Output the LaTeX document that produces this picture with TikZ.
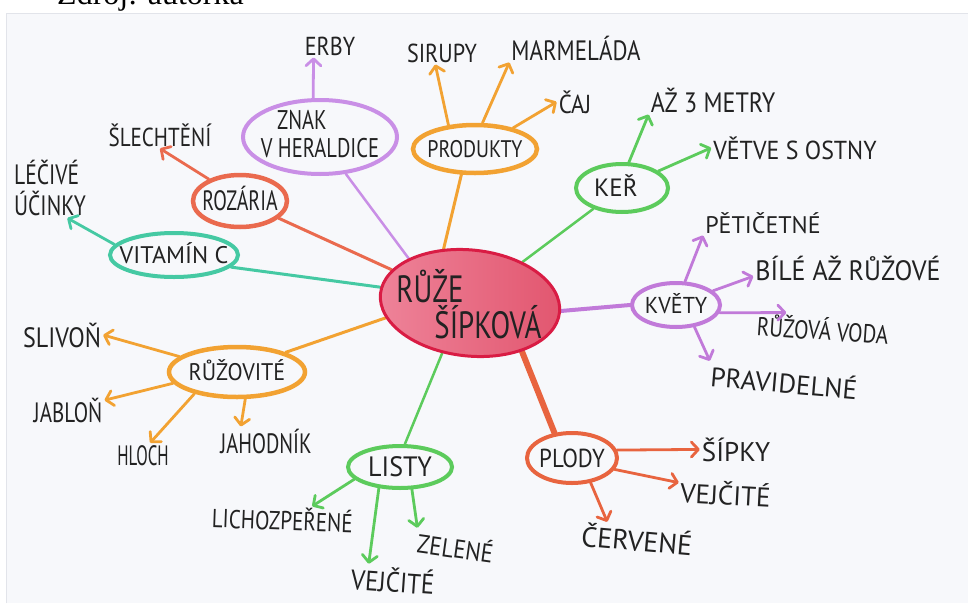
\documentclass[tikz,border=0pt]{standalone}
\usepackage{fontspec}
\usepackage{graphicx}
\setmainfont{PT Sans}
\newfontfamily\bigfont{PT Sans}[FakeStretch=0.76]
\newfontfamily\srcfont{Liberation Serif}
\usetikzlibrary{shapes.geometric,arrows.meta}
\definecolor{ink}{HTML}{222222}
\definecolor{cRed}{HTML}{E8643F}
\definecolor{cRoz}{HTML}{EA6A4E}
\definecolor{cTeal}{HTML}{45C9A3}
\definecolor{cLilac}{HTML}{C98FE6}
\definecolor{cViolet}{HTML}{C17AD9}
\definecolor{cOrange}{HTML}{F2A232}
\definecolor{cGreen}{HTML}{5CCB5C}
\definecolor{cRuzeBorder}{HTML}{D91C44}
\definecolor{cRuzeL}{HTML}{EE8399}
\definecolor{cRuzeR}{HTML}{E2566F}
\definecolor{paper}{HTML}{F7F8FB}
\definecolor{paperEdge}{HTML}{E2E4EA}
\newcommand\ctr[1]{\smash{\makebox[0pt]{\raisebox{-0.35em}{#1}}}}
\newcommand\sx[2]{\scalebox{#1}[1]{#2}}
\pgfdeclarelayer{bg}
\pgfsetlayers{bg,main}
\begin{document}
\begin{tikzpicture}[x=1pt,y=-1pt,
  lbl/.style={font=\fontsize{#1}{#1}\selectfont, text=ink, inner sep=2pt, anchor=base},
  bub/.style={ellipse, draw=#1, line width=4pt, fill=paper, inner sep=0pt, text=ink},
  link/.style={draw=#1, line width=3pt, line cap=round},
  arr/.style={draw=#1, line width=2.8pt, line cap=round, -{Straight Barb[length=7pt,width=15pt,round]}},
]
\useasboundingbox (0,0) rectangle (968,605);
% source line (cut off at the top)
\node[font=\srcfont\fontsize{32}{32}\selectfont, anchor=base west, inner sep=0pt] (src) at (57,5) {Zdroj: autorka};

% central node
\node[ellipse, draw=cRuzeBorder, line width=3pt, left color=cRuzeL, right color=cRuzeR,
      minimum width=180pt, minimum height=106pt, rotate=-6, inner sep=0pt] (ruze) at (470,303) {};
\node[font=\bigfont\fontsize{38}{40}\selectfont, text=ink, anchor=base, inner sep=0pt] (ruzeA) at (430,302) {RŮŽE};
\node[font=\bigfont\fontsize{38}{40}\selectfont, text=ink, anchor=base, inner sep=0pt] (ruzeB) at (488,338) {ŠÍPKOVÁ};

% first-level bubbles
\node[bub=cRoz, line width=4.5pt, minimum width=94pt, minimum height=52pt, font=\fontsize{28}{28}\selectfont] (rozaria) at (240,201) {\ctr{\sx{0.71}{ROZÁRIA}}};
\node[bub=cTeal, minimum width=128pt, minimum height=44pt, font=\fontsize{24}{24}\selectfont] (vitamin) at (174,255) {\ctr{VITAMÍN C}};
\node[bub=cLilac, minimum width=154pt, minimum height=74pt, font=\fontsize{27}{27}\selectfont] (znak) at (320,137)
   {\smash{\makebox[0pt]{\raisebox{-20pt}{\begin{tabular}[b]{@{}c@{}}\hspace*{-36pt}\sx{0.76}{ZNAK}\\\sx{0.76}{V HERALDICE}\end{tabular}}}}};
\node[bub=cOrange, line width=4.5pt, minimum width=124pt, minimum height=48pt, font=\fontsize{24}{24}\selectfont] (produkty) at (475,149) {\ctr{\sx{0.83}{PRODUKTY}}};
\node[bub=cGreen, minimum width=92pt, minimum height=48pt, font=\fontsize{25}{25}\selectfont] (ker) at (622,188) {\ctr{\hspace*{-12pt}KEŘ}};
\node[bub=cViolet, minimum width=88pt, minimum height=44pt, font=\fontsize{23}{23}\selectfont] (kvety) at (676,305) {\ctr{\sx{0.96}{KVĚTY}}};
\node[bub=cRed, minimum width=90pt, minimum height=50pt, font=\fontsize{26}{26}\selectfont] (plody) at (572,458) {\ctr{\sx{0.88}{PLODY}}};
\node[bub=cGreen, minimum width=104pt, minimum height=42pt, font=\fontsize{28}{28}\selectfont] (listy) at (400,467) {\ctr{\sx{0.93}{LISTY}}};
\node[bub=cOrange, line width=4.5pt, minimum width=136pt, minimum height=50pt, font=\fontsize{24}{24}\selectfont] (ruzovite) at (237,372) {\ctr{\sx{0.92}{RŮŽOVITÉ}}};

% leaf labels
\node[lbl=26] (slechteni) at (160,146) {\sx{0.81}{ŠLECHTĚNÍ}};
\node[font=\fontsize{28}{31}\selectfont, text=ink, inner sep=2pt, align=left] (lecive) at (50,188) {\sx{0.77}{LÉČIVÉ}\\\sx{0.77}{ÚČINKY}};
\node[lbl=26] (erby) at (330,55) {\sx{0.85}{ERBY}};
\node[lbl=26] (sirupy) at (442,62) {\sx{0.85}{SIRUPY}};
\node[lbl=28] (marmelada) at (576,60) {\sx{0.82}{MARMELÁDA}};
\node[lbl=26] (caj) at (575,113) {\sx{0.88}{ČAJ}};
\node[lbl=28] (metry) at (713,112) {\sx{0.86}{AŽ 3 METRY}};
\node[lbl=26] (vetve) at (795,159) {\sx{0.92}{VĚTVE S OSTNY}};
\node[lbl=24] (peti) at (763,233) {PĚTIČETNÉ};
\node[lbl=28] (bile) at (848,280) {\sx{0.93}{BÍLÉ AŽ RŮŽOVÉ}};
\node[lbl=26, rotate=-4] (voda) at (822,340) {\sx{0.81}{RŮŽOVÁ VODA}};
\node[lbl=27, rotate=-5] (prav) at (783,393) {PRAVIDELNÉ};
\node[lbl=27] (sipky) at (736,461) {ŠÍPKY};
\node[lbl=27, rotate=-3] (vejA) at (725,505) {VEJČITÉ};
\node[lbl=28, rotate=-5] (cervene) at (636,551) {ČERVENÉ};
\node[lbl=26, rotate=-2] (licho) at (282,530) {\sx{0.81}{LICHOZPEŘENÉ}};
\node[lbl=28, rotate=-4] (vejB) at (392,592) {\sx{0.89}{VEJČITÉ}};
\node[lbl=26, rotate=-8] (zelene) at (454,558) {\sx{0.88}{ZELENÉ}};
\node[lbl=28] (slivon) at (62,347) {\sx{0.86}{SLIVOŇ}};
\node[lbl=28] (jablon) at (68,422) {\sx{0.75}{JABLOŇ}};
\node[lbl=28] (hloch) at (143,465) {\sx{0.6}{HLOCH}};
\node[lbl=28] (jahodnik) at (266,453) {\sx{0.73}{JAHODNÍK}};

% arrows to leaves
\draw[arr=cRoz] (rozaria.145) -- (slechteni.south);
\draw[arr=cTeal] (vitamin.170) -- (lecive.-60);
\draw[arr=cLilac] (znak.100) -- (erby.-145);
\draw[arr=cOrange] (produkty.138) -- (sirupy.-120);
\draw[arr=cOrange] (produkty.74) -- (marmelada.south west);
\draw[arr=cOrange] (produkty.29) -- (caj.west);
\draw[arr=cGreen] (ker.75) -- (metry.south west);
\draw[arr=cGreen] (ker.25) -- (vetve.west);
\draw[arr=cViolet] (kvety.69) -- (peti.south west);
\draw[arr=cViolet] (kvety.21) -- (bile.185);
\draw[arr=cViolet] (kvety.-10) -- (voda.160);
\draw[arr=cViolet] (kvety.-50) -- (prav.north west);
\draw[arr=cRed] (plody.10) -- (sipky.west);
\draw[arr=cRed] (plody.-15) -- (vejA.170);
\draw[arr=cRed] (plody.-53) -- (cervene.155);
\draw[arr=cGreen] (listy.195) -- (licho.25);
\draw[arr=cGreen] (listy.-135) -- (vejB.150);
\draw[arr=cGreen] (listy.-62) -- (zelene.north west);
\draw[arr=cOrange] (ruzovite.165) -- (slivon.east);
\draw[arr=cOrange] (ruzovite.190) -- (jablon.15);
\draw[arr=cOrange] (ruzovite.207) -- (hloch.60);
\draw[arr=cOrange] (ruzovite.-73) -- (jahodnik.150);

\begin{pgfonlayer}{bg}
  \fill[white] (0,0) rectangle (968,605);
  \fill[paper] (6,13) rectangle (968,603);
  \draw[paperEdge, line width=1pt] (6,603) -- (6,13) -- (968,13);
  \draw[link=cRoz] (ruze.163) -- (rozaria.-24);
  \draw[link=cTeal] (ruze.176) -- (vitamin.-12);
  \draw[link=cOrange] (ruze.196) -- (ruzovite.22);
  \draw[link=cLilac, line width=2.5pt] (ruze.150) -- (znak.-55);
  \draw[link=cOrange] (ruze.122) -- (produkty.-118);
  \draw[link=cGreen, line width=2.5pt] (ruze.44) -- (ker.216);
  \draw[link=cViolet, line width=4pt] (ruze.1) -- (kvety.180);
  \draw[link=cRed, line width=6pt] (ruze.-37) -- (plody.125);
  \draw[link=cGreen, line width=2.5pt] (ruze.-113) -- (listy.78);
\end{pgfonlayer}
\end{tikzpicture}
\end{document}
